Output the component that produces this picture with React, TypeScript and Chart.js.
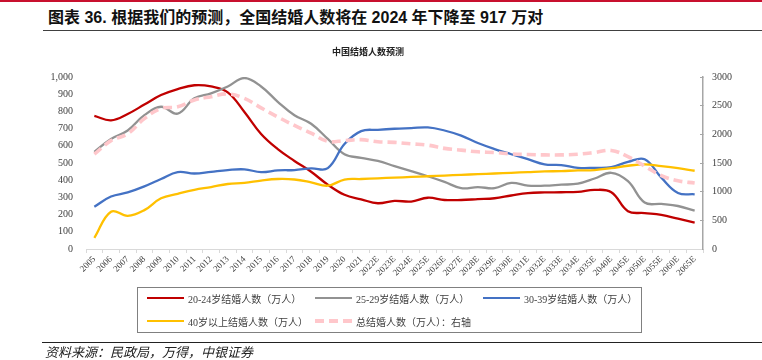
import React, { useEffect, useRef } from "react";
import { Chart, registerables } from "chart.js";

Chart.register(...registerables);

const categories = [
  "2005", "2006", "2007", "2008", "2009", "2010", "2011", "2012", "2013", "2014",
  "2015", "2016", "2017", "2018", "2019", "2020", "2021",
  "2022E", "2023E", "2024E", "2025E", "2026E", "2027E", "2028E", "2029E", "2030E",
  "2031E", "2032E", "2033E", "2034E", "2035E",
  "2040E", "2045E", "2050E", "2055E", "2060E", "2065E",
];

const age2024 = [
  774, 748, 785, 840, 895, 930, 952, 945, 911, 797, 669, 581, 512, 449, 374, 315, 289,
  266, 280, 276, 298, 285, 285, 290, 295, 311, 325, 329, 330, 332, 344,
  330, 220, 209, 198, 176, 153,
];

const age2529 = [
  565, 640, 689, 778, 827, 787, 876, 905, 945, 994, 945, 856, 778, 728, 640, 551, 530,
  512, 482, 453, 423, 390, 354, 360, 354, 384, 368, 368, 374, 380, 410,
  443, 394, 270, 262, 250, 223,
];

const age3039 = [
  246, 305, 329, 364, 407, 447, 439, 449, 459, 463, 447, 457, 459, 469, 470, 610, 685,
  693, 699, 703, 707, 689, 659, 616, 581, 551, 522, 492, 488, 472, 472,
  476, 506, 522, 415, 326, 318,
];

const age40plus = [
  65, 217, 193, 226, 295, 321, 344, 360, 378, 384, 398, 407, 404, 388, 368, 404, 407,
  411, 415, 419, 423, 427, 431, 435, 439, 443, 447, 451, 453, 457, 459,
  470, 484, 492, 482, 470, 455,
];

const totalRight = [
  1653, 1890, 2008, 2274, 2451, 2480, 2598, 2657, 2705, 2628, 2462, 2303, 2155, 2020, 1878, 1890, 1907,
  1872, 1860, 1834, 1812, 1755, 1725, 1695, 1683, 1659, 1647, 1641, 1641, 1653, 1683,
  1719, 1611, 1446, 1281, 1190, 1150,
];

const leftTicks = { min: 0, max: 1000, step: 100 };
const rightTicks = { min: 0, max: 3000, step: 500 };

const seriesNames = [
  "20-24岁结婚人数（万人）",
  "25-29岁结婚人数（万人）",
  "30-39岁结婚人数（万人）",
  "40岁以上结婚人数（万人）",
  "总结婚人数（万人）：右轴",
];

const COLORS = ["#C00000", "#929292", "#4472C4", "#FFC000", "#FFC7CB"];

const serif = "'Liberation Serif', 'Times New Roman', serif";
const cjkSerif = "'Liberation Serif', 'Noto Sans CJK SC', serif";

function ChartCanvas() {
  const ref = useRef<HTMLCanvasElement | null>(null);
  useEffect(() => {
    if (!ref.current) return;
    const chart = new Chart(ref.current, {
      type: "line",
      data: {
        labels: categories,
        datasets: [
          { label: seriesNames[0], data: age2024, borderColor: COLORS[0], borderWidth: 2.3, yAxisID: "y", order: 5 },
          { label: seriesNames[1], data: age2529, borderColor: COLORS[1], borderWidth: 2.3, yAxisID: "y", order: 4 },
          { label: seriesNames[2], data: age3039, borderColor: COLORS[2], borderWidth: 2.3, yAxisID: "y", order: 3 },
          { label: seriesNames[3], data: age40plus, borderColor: COLORS[3], borderWidth: 2.3, yAxisID: "y", order: 2 },
          {
            label: seriesNames[4], data: totalRight, borderColor: COLORS[4], borderWidth: 3.6,
            borderDash: [9, 5], yAxisID: "y1", order: 1,
          },
        ].map((d) => ({ ...d, pointRadius: 0, tension: 0.4, fill: false, backgroundColor: d.borderColor })),
      },
      options: {
        animation: false,
        responsive: false,
        maintainAspectRatio: false,
        layout: { padding: { left: 40, right: 19, top: 77, bottom: 71 } },
        plugins: { legend: { display: false }, tooltip: { enabled: false }, title: { display: false } },
        scales: {
          x: {
            type: "category",
            offset: true,
            grid: { offset: true, drawOnChartArea: false, drawTicks: true, tickLength: 4, color: "#D9D9D9" },
            border: { display: true, color: "#D9D9D9" },
            ticks: {
              autoSkip: false, minRotation: 45, maxRotation: 45, padding: 1,
              color: "#404040", font: { family: serif, size: 9 },
            },
            afterFit: (axis: any) => { axis.height = 40; },
          },
          y: {
            position: "left",
            min: leftTicks.min, max: leftTicks.max,
            grid: { display: false, drawTicks: false },
            border: { display: false },
            ticks: {
              stepSize: leftTicks.step, padding: 13, color: "#404040",
              font: { family: serif, size: 10 },
              callback: (v: any) => Number(v).toLocaleString("en-US"),
            },
            afterFit: (axis: any) => { axis.width = 46; },
          },
          y1: {
            position: "right",
            min: rightTicks.min, max: rightTicks.max,
            grid: { drawOnChartArea: false, drawTicks: true, tickLength: -3, color: "#A6A6A6" },
            border: { display: true, color: "#A6A6A6", width: 1.5 },
            ticks: {
              stepSize: rightTicks.step, padding: 12, color: "#404040",
              font: { family: serif, size: 10 },
              callback: (v: any) => String(v),
            },
            afterFit: (axis: any) => { axis.width = 40; },
          },
        },
      },
    });
    return () => chart.destroy();
  }, []);
  return (
    <canvas
      ref={ref}
      width={762}
      height={360}
      style={{ position: "absolute", left: 0, top: 0, width: 762, height: 360 }}
    />
  );
}

function LegendItem({ x, y, idx }: { x: number; y: number; idx: number }) {
  const dashed = idx === 4;
  return (
    <div style={{ position: "absolute", left: x, top: y, height: 14, display: "flex", alignItems: "center", whiteSpace: "nowrap" }}>
      {dashed ? (
        <div style={{ width: 37, height: 4, display: "flex", justifyContent: "space-between" }}>
          {[0, 1, 2].map((k) => (
            <div key={k} style={{ width: 9, height: 4, background: COLORS[4] }} />
          ))}
        </div>
      ) : (
        <div style={{ width: 37, height: 2.5, background: COLORS[idx] }} />
      )}
      <span style={{ marginLeft: 4, fontFamily: cjkSerif, fontSize: 10, color: "#404040" }}>{seriesNames[idx]}</span>
    </div>
  );
}

export default function App() {
  return (
    <div style={{ position: "absolute", left: 0, top: 0, width: 762, height: 360, background: "#fff", overflow: "hidden" }}>
      <div style={{ position: "absolute", left: 0, top: 0, width: 762, height: 2, background: "#C8102E" }} />
      <div
        style={{
          position: "absolute", left: 48, top: 8, height: 20, lineHeight: "20px",
          fontFamily: "'Liberation Sans', 'Noto Sans CJK SC', sans-serif", fontWeight: 700, fontSize: 16,
          color: "#111", whiteSpace: "nowrap",
        }}
      >
        图表 36. 根据我们的预测，全国结婚人数将在 2024 年下降至 917 万对
      </div>
      <div style={{ position: "absolute", left: 43, top: 30, width: 719, height: 1, background: "#404040" }} />
      <ChartCanvas />
      <div
        style={{
          position: "absolute", left: 0, width: 762, top: 45, textAlign: "center",
          fontFamily: "'Noto Sans CJK SC', sans-serif", fontWeight: 700, fontSize: 9, color: "#222",
          paddingRight: 26, boxSizing: "border-box",
        }}
      >
        中国结婚人数预测
      </div>
      <div style={{ position: "absolute", left: 137, top: 287, width: 505, height: 46, border: "1px solid #808080", boxSizing: "border-box" }} />
      <LegendItem x={147} y={291} idx={0} />
      <LegendItem x={315} y={291} idx={1} />
      <LegendItem x={483} y={291} idx={2} />
      <LegendItem x={147} y={314} idx={3} />
      <LegendItem x={315} y={314} idx={4} />
      <div style={{ position: "absolute", left: 42, top: 342, width: 720, height: 1, background: "#222" }} />
      <div
        style={{
          position: "absolute", left: 45, top: 344, lineHeight: "16px",
          fontFamily: "'Noto Sans CJK SC', sans-serif", fontStyle: "italic", fontSize: 13, color: "#222",
          whiteSpace: "nowrap",
        }}
      >
        资料来源：民政局，万得，中银证券
      </div>
    </div>
  );
}
